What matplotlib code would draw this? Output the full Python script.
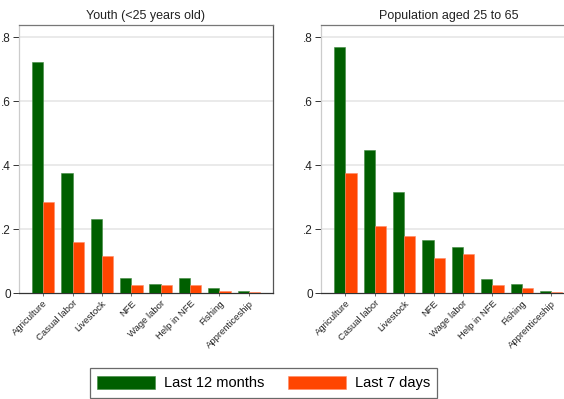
import matplotlib
matplotlib.use("Agg")
import matplotlib.pyplot as plt
import numpy as np

plt.rcParams['font.family'] = ['Liberation Sans', 'DejaVu Sans']

activities = ["Agriculture", "Casual labor", "Livestock", "NFE", "Wage labor",
              "Help in NFE", "Fishing", "Apprenticeship"]

# shares for youth (<25)
youth_12m = [0.723, 0.375, 0.232, 0.049, 0.029, 0.049, 0.016, 0.007]
youth_7d = [0.286, 0.160, 0.117, 0.025, 0.026, 0.026, 0.006, 0.005]

# shares for adults 25-65
adult_12m = [0.770, 0.447, 0.315, 0.166, 0.145, 0.046, 0.029, 0.006]
adult_7d = [0.375, 0.211, 0.179, 0.110, 0.122, 0.026, 0.015, 0.005]

yticks = [0, 0.2, 0.4, 0.6, 0.8]
ytick_labels = ["0", ".2", ".4", ".6", ".8"]

green = "#005f00"
orange = "#ff4500"

fig = plt.figure(figsize=(5.64, 3.99), dpi=100)
ax1 = fig.add_axes([19 / 564, 1 - 293.3 / 399, 254 / 564, 268.3 / 399])
ax2 = fig.add_axes([321.3 / 564, 1 - 293.3 / 399, 254 / 564, 268.3 / 399])

x = np.arange(len(activities))
w = 0.382


def panel(ax, v12, v7, title):
    ax.bar(x - w / 2, v12, w, color=green, edgecolor="#3f8a3f", linewidth=0.4,
           label="Last 12 months", zorder=3)
    ax.bar(x + w / 2, v7, w, color=orange, edgecolor="#ff8a66", linewidth=0.4,
           label="Last 7 days", zorder=3)
    ax.set_xlim(-0.82, len(activities) - 1 + 0.82)
    ax.set_ylim(0, 0.838)
    ax.set_yticks(yticks)
    ax.set_yticklabels(ytick_labels, fontsize=8.5, color="#222222")
    for yv in yticks[1:]:
        ax.axhline(yv, color="#e8e8e8", linewidth=1.3, zorder=1)
    ax.set_xticks(x)
    ax.set_xticklabels(activities, rotation=45, ha="right", va="top",
                       rotation_mode="anchor", fontsize=6.8, color="#222222")
    ax.tick_params(axis="y", length=4, width=0.7, color="#333333", pad=2)
    ax.tick_params(axis="x", length=2, width=0.6, color="#555555", pad=2)
    ax.set_title(title, fontsize=9, color="#222222", pad=4)
    ax.spines["left"].set_color("#cccccc")
    ax.spines["top"].set_color("#777777")
    ax.spines["right"].set_color("#555555")
    ax.spines["bottom"].set_color("#333333")
    for s in ax.spines.values():
        s.set_linewidth(0.9)


panel(ax1, youth_12m, youth_7d, "Youth (<25 years old)")
panel(ax2, adult_12m, adult_7d, "Population aged 25 to 65")

handles, labels = ax1.get_legend_handles_labels()
leg = fig.legend(handles, labels, loc="center", ncol=2,
                 bbox_to_anchor=(263.5 / 564, 1 - 383 / 399),
                 fontsize=10.5, frameon=True, fancybox=False,
                 handlelength=4.0, handleheight=1.0, columnspacing=1.6,
                 handletextpad=0.6, borderpad=0.5, edgecolor="#444444")
leg.get_frame().set_linewidth(0.9)

fig.savefig("out.png", dpi=100)
